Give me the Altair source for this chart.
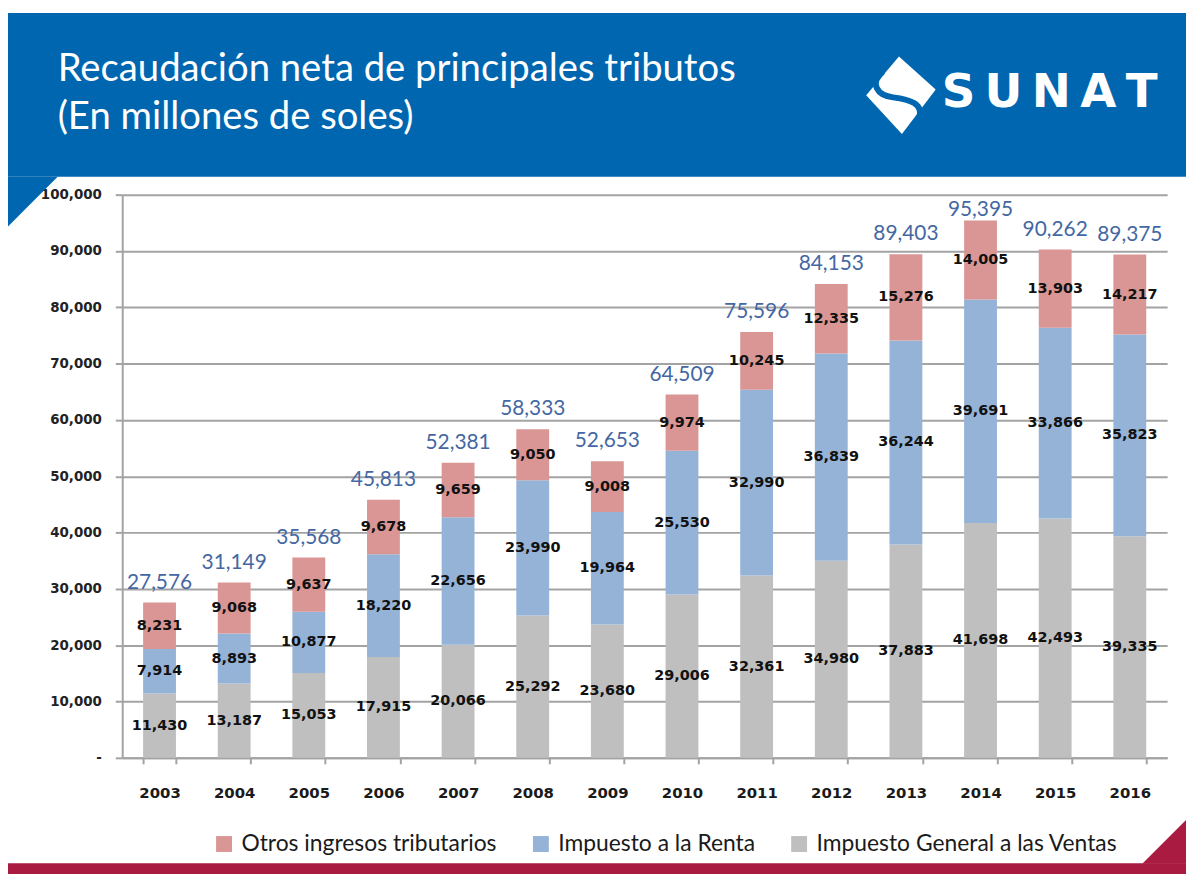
import altair as alt
import pandas as pd

# ---------------- data ----------------
anios = ["2003", "2004", "2005", "2006", "2007", "2008", "2009",
         "2010", "2011", "2012", "2013", "2014", "2015", "2016"]
igv = [11430, 13187, 15053, 17915, 20066, 25292, 23680,
       29006, 32361, 34980, 37883, 41698, 42493, 39335]
renta = [7914, 8893, 10877, 18220, 22656, 23990, 19964,
         25530, 32990, 36839, 36244, 39691, 33866, 35823]
otros = [8231, 9068, 9637, 9678, 9659, 9050, 9008,
         9974, 10245, 12335, 15276, 14005, 13903, 14217]
totales = [27576, 31149, 35568, 45813, 52381, 58333, 52653,
           64509, 75596, 84153, 89403, 95395, 90262, 89375]
series = ["Otros ingresos tributarios", "Impuesto a la Renta",
          "Impuesto General a las Ventas"]
colores = ["#D99694", "#95B3D7", "#BFBFBF"]
titulo = ["Recaudación neta de principales tributos", "(En millones de soles)"]
logo_texto = "S\u2009U\u2009N\u2009A\u2009T"
y_ticks = [0, 10000, 20000, 30000, 40000, 50000, 60000, 70000, 80000, 90000, 100000]

rows = []
for i, a in enumerate(anios):
    for s, vals, orden in [(series[2], igv, 0), (series[1], renta, 1), (series[0], otros, 2)]:
        rows.append({"anio": a, "serie": s, "valor": vals[i], "orden": orden})
df = pd.DataFrame(rows)
df_tot = pd.DataFrame({"anio": anios, "total": totales})
one = pd.DataFrame({"k": [0]})

# ---------------- layout ----------------
W, H = 1052, 567
BLUE = "#0066B0"
RED = "#A91B40"
GRID = "#A3A3A3"

x_enc = alt.X("anio:N", title=None,
              scale=alt.Scale(paddingInner=0.56, paddingOuter=0.28),
              axis=alt.Axis(labelAngle=0, tickBand="extent", tickSize=6,
                            tickColor=GRID, tickWidth=2, domainColor=GRID, domainWidth=2,
                            labelFont="DejaVu Sans", labelFontWeight="bold",
                            labelFontSize=15, labelColor="#1a1a1a",
                            labelBaseline="middle", labelPadding=29, grid=False))
y_scale = alt.Scale(domain=[0, 100000], nice=False)

base = alt.Chart(df).transform_stack(
    stack="valor", groupby=["anio"], as_=["y0", "y1"],
    sort=[alt.SortField("orden", order="ascending")]
).transform_calculate(mid="(datum.y0 + datum.y1) / 2")

bars = base.mark_bar().encode(
    x=x_enc,
    y=alt.Y("y0:Q", scale=y_scale, title=None,
            axis=alt.Axis(values=y_ticks, tickSize=7, tickColor=GRID, tickWidth=2,
                          domainColor=GRID, domainWidth=2, gridColor=GRID, gridWidth=2,
                          labelFont="DejaVu Sans", labelFontWeight="bold",
                          labelFontSize=13.5, labelColor="#222222", labelPadding=14,
                          labelExpr="datum.value == 0 ? '-\u00a0\u00a0\u00a0' : format(datum.value, ',')")),
    y2="y1:Q",
    color=alt.Color("serie:N", scale=alt.Scale(domain=series, range=colores),
                    legend=alt.Legend(title=None, orient="none", legendX=91, legendY=642,
                                      direction="horizontal", symbolType="square",
                                      symbolSize=256, symbolStrokeWidth=0,
                                      labelFont="Lato", labelFontSize=23,
                                      labelColor="#1a1a1a", labelOffset=6, labelLimit=0,
                                      columnPadding=32, padding=0)),
)

seg_labels = base.mark_text(font="DejaVu Sans", fontWeight="bold", fontSize=14.5,
                            color="#111111", baseline="middle").encode(
    x="anio:N",
    y=alt.Y("mid:Q", scale=y_scale),
    text=alt.Text("valor:Q", format=","),
)

tot_labels = alt.Chart(df_tot).transform_calculate(
    ypos="min(datum.total, 93800)"
).mark_text(font="Lato", fontSize=21, color="#4467A3", baseline="alphabetic", dy=-14).encode(
    x="anio:N",
    y=alt.Y("ypos:Q", scale=y_scale),
    text=alt.Text("total:Q", format=","),
)

# ---------------- decorations ----------------
banner = alt.Chart(one).mark_rect(color=BLUE).encode(
    x=alt.value(-125), x2=alt.value(1071), y=alt.value(-183), y2=alt.value(-18))
banner_tri = alt.Chart(one).mark_point(
    shape="M -1 -1 L 1 -1 L -1 1 Z", filled=True, fill=BLUE, strokeWidth=0,
    size=2500, opacity=1).encode(x=alt.value(-90), y=alt.value(7))
t1 = alt.Chart(one).mark_text(text=titulo[0], font="Lato", fontSize=38.5, color="white",
                              align="left", baseline="alphabetic").encode(
    x=alt.value(-65), y=alt.value(-114))
t2 = alt.Chart(one).mark_text(text=titulo[1], font="Lato", fontSize=38.5, color="white",
                              align="left", baseline="alphabetic").encode(
    x=alt.value(-65), y=alt.value(-66))
logo_d = alt.Chart(one).mark_point(
    shape="M -0.05 -0.975 L 0.875 -0.15 L 0.025 0.975 L -0.875 0 Z",
    filled=True, fill="white", strokeWidth=0, size=6400, opacity=1).encode(
    x=alt.value(784), y=alt.value(-100))
logo_s = alt.Chart(one).mark_point(
    shape="M -0.45 -0.6 C -0.8 -0.3 -0.6 0.0 -0.2 0.05 C 0.2 0.1 0.6 0.2 0.45 0.6",
    filled=False, stroke=BLUE, strokeWidth=6, size=6400, opacity=1).encode(
    x=alt.value(784), y=alt.value(-100))
logo_t = alt.Chart(one).mark_text(text=logo_texto, font="DejaVu Sans", fontWeight="bold",
                                  fontSize=47, color="white", align="left",
                                  baseline="alphabetic").encode(
    x=alt.value(825), y=alt.value(-88))
stripe = alt.Chart(one).mark_rect(color=RED).encode(
    x=alt.value(-125), x2=alt.value(1071), y=alt.value(673), y2=alt.value(700))
stripe_tri = alt.Chart(one).mark_point(
    shape="M 1 -1 L 1 1 L -1 1 Z", filled=True, fill=RED, strokeWidth=0,
    size=1936, opacity=1).encode(x=alt.value(1049), y=alt.value(651.5))

chart = alt.layer(
    banner, banner_tri, t1, t2, logo_d, logo_s, logo_t, stripe, stripe_tri,
    bars, seg_labels, tot_labels
).properties(
    width=W, height=H,
    autosize=alt.AutoSizeParams(type="none"),
    padding={"left": 115, "top": 185, "right": 19, "bottom": 114},
    background="white",
).configure_view(stroke=None)

chart.save("out.html", embed_options={"renderer": "svg", "actions": False})
